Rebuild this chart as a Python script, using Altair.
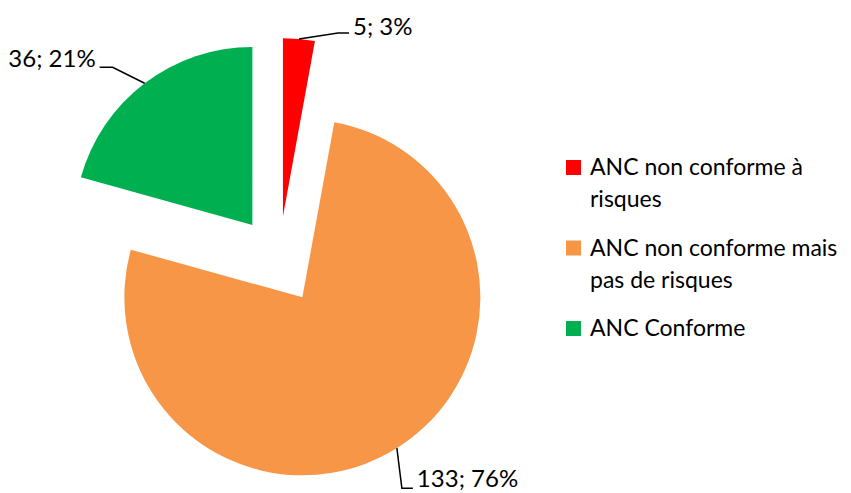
import math
import altair as alt
import pandas as pd

# ---- data ----
categories = ["ANC non conforme à risques", "ANC non conforme mais pas de risques", "ANC Conforme"]
legend_labels = ["ANC non conforme à\nrisques", "ANC non conforme mais\npas de risques", "ANC Conforme"]
values = [5, 133, 36]
colors = ["#FF0000", "#F79646", "#00B050"]

# ---- layout / style ----
W, H = 835, 485
CX, CY = 271, 252          # undisplaced pie centre (px)
R = 178                    # radius
EXPLODE = 44               # explosion distance
FONT = "Lato"
FS = 24
LEG_FS = 23
# leader line: elbow offset from rim point (dx, dy), horizontal tail length, text baseline shift
leader_style = [(39, -6, 11, 2), (5, 40, 11, -1), (-32, -16, -13, 0)]
LEG_X_SYM, LEG_X_TXT, LEG_Y0, LEG_STEP = 565.5, 582, 167, 80.5

total = sum(values)
rows, line_rows, text_rows = [], [], []
cum = 0
for i, (c, v) in enumerate(zip(categories, values)):
    start, end = cum, cum + v
    cum = end
    mid = 2 * math.pi * (start + end) / 2 / total
    sx, sy = math.sin(mid), -math.cos(mid)
    cx, cy = CX + EXPLODE * sx, CY + EXPLODE * sy
    rows.append({"cat": c, "value": v, "start": start, "end": end, "cx": cx, "cy": cy})
    rx, ry = cx + R * sx, cy + R * sy
    dx, dy, tail, tdy = leader_style[i]
    ex, ey = rx + dx, ry + dy
    tx = ex + tail
    pts = [(rx, ry), (ex, ey), (tx, ey)]
    for k, (px, py) in enumerate(pts):
        line_rows.append({"cat": c, "k": k, "px": px, "py": py})
    pct = round(100 * v / total)
    text_rows.append({
        "cat": c,
        "label": f"{v}; {pct}%",
        "lx": tx + (4 if tail > 0 else -4),
        "ly": ey + tdy,
        "align": "left" if tail > 0 else "right",
    })

pie_df = pd.DataFrame(rows)
line_df = pd.DataFrame(line_rows)
text_df = pd.DataFrame(text_rows)
legend_df = pd.DataFrame({
    "cat": categories,
    "label": legend_labels,
    "sy": [LEG_Y0 - 7.5 + i * LEG_STEP for i in range(len(categories))],
    "ty": [LEG_Y0 + i * LEG_STEP for i in range(len(categories))],
})

color_scale = alt.Scale(domain=categories, range=colors)
X = lambda f: alt.X(f, scale=None, axis=None)
Y = lambda f: alt.Y(f, scale=None, axis=None)

arcs = alt.Chart(pie_df).mark_arc(outerRadius=R, stroke=None).encode(
    theta=alt.Theta("start:Q", scale=alt.Scale(domain=[0, total])),
    theta2="end:Q",
    x=X("cx:Q"),
    y=Y("cy:Q"),
    color=alt.Color("cat:N", scale=color_scale, legend=None),
)

leaders = alt.Chart(line_df).mark_line(color="black", strokeWidth=1.5).encode(
    x=X("px:Q"), y=Y("py:Q"), detail="cat:N", order="k:Q"
)

left_txt = alt.Chart(text_df[text_df["align"] == "left"]).mark_text(
    font=FONT, fontSize=FS, align="left", baseline="alphabetic", color="black"
).encode(x=X("lx:Q"), y=Y("ly:Q"), text="label:N")
right_txt = alt.Chart(text_df[text_df["align"] == "right"]).mark_text(
    font=FONT, fontSize=FS, align="right", baseline="alphabetic", color="black"
).encode(x=X("lx:Q"), y=Y("ly:Q"), text="label:N")

leg_sym = alt.Chart(legend_df).mark_square(size=225, opacity=1).encode(
    x=alt.value(LEG_X_SYM), y=Y("sy:Q"),
    color=alt.Color("cat:N", scale=color_scale, legend=None),
)
leg_txt = alt.Chart(legend_df).mark_text(
    font=FONT, fontSize=LEG_FS, align="left", baseline="alphabetic",
    lineBreak="\n", lineHeight=32, color="black"
).encode(x=alt.value(LEG_X_TXT), y=Y("ty:Q"), text="label:N")

chart = alt.layer(arcs, leaders, left_txt, right_txt, leg_sym, leg_txt).properties(
    width=W, height=H, padding=0, autosize=alt.AutoSizeParams(type="none")
).configure_view(stroke=None)

chart.save("out.html", embed_options={"renderer": "svg", "actions": False})
